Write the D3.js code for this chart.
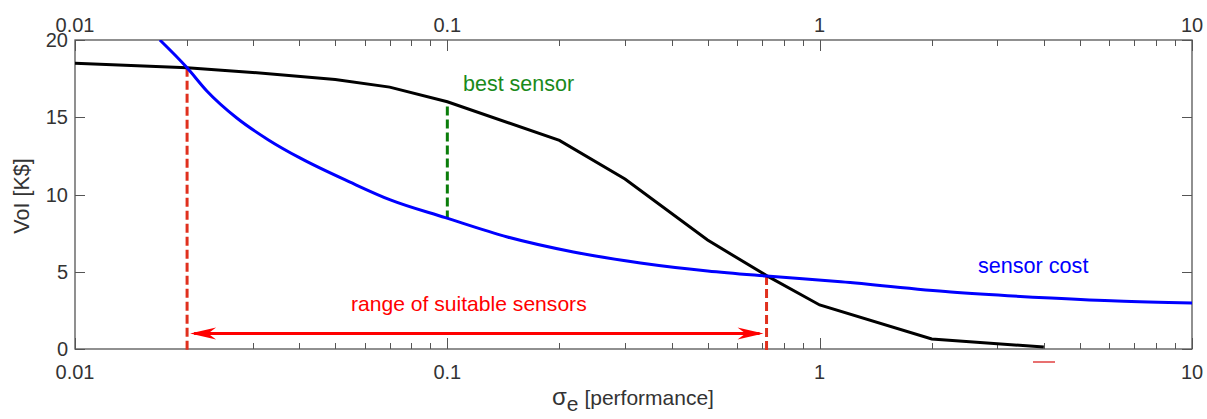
<!DOCTYPE html>
<html>
<head>
<meta charset="utf-8">
<script src="https://cdn.jsdelivr.net/npm/d3@7"></script>
<style>
  body { margin: 0; background: #fff; }
  text { font-family: "Liberation Sans", Arial, sans-serif; fill: #333; }
</style>
</head>
<body>
<script>
// value of information curve (black)
var voiSigma = [0.01, 0.02, 0.03, 0.05, 0.07, 0.1, 0.2, 0.3, 0.5, 0.72, 1, 2, 4];
var voiValue = [18.5, 18.2, 17.9, 17.45, 16.95, 16.0, 13.5, 11.0, 7.05, 4.75, 2.85, 0.65, 0.13];

// sensor cost curve (blue)
var costSigma = [0.0169, 0.02, 0.0226, 0.0272, 0.033, 0.0403, 0.0548, 0.0703, 0.0988,
                 0.145, 0.218, 0.33, 0.5, 0.72, 1.14, 2.25, 4.18, 6.3, 10];
var costValue = [20, 18.2, 16.7, 14.95, 13.55, 12.35, 10.8, 9.65, 8.5,
                 7.25, 6.28, 5.57, 5.05, 4.72, 4.35, 3.69, 3.3, 3.1, 2.98];

var xTicks = [0.01, 0.1, 1, 10];
var yTicks = [0, 5, 10, 15, 20];

var bestSensor = 0.1, rangeLow = 0.02, rangeHigh = 0.72;

var width = 1207, height = 419;
var mLeft = 75, mRight = 1192, mTop = 40, mBottom = 349;

var svg = d3.select("body").append("svg")
            .attr("width", width)
            .attr("height", height);

var x = d3.scaleLog().domain([0.01, 10]).range([mLeft, mRight]);
var y = d3.scaleLinear().domain([0, 20]).range([mBottom, mTop]);

// frame
svg.append("rect")
    .attr("x", mLeft).attr("y", mTop)
    .attr("width", mRight - mLeft).attr("height", mBottom - mTop)
    .attr("fill", "none").attr("stroke", "#555").attr("stroke-width", 1.3);

// x ticks (all log ticks, inward, top & bottom)
x.ticks().forEach(function(v) {
  var major = xTicks.indexOf(v) >= 0;
  var len = major ? 11 : 6;
  var px = Math.round(x(v)) + 0.5;
  svg.append("line").attr("x1", px).attr("x2", px)
     .attr("y1", mBottom).attr("y2", mBottom - len)
     .attr("stroke", "#555").attr("stroke-width", 1);
  svg.append("line").attr("x1", px).attr("x2", px)
     .attr("y1", mTop).attr("y2", mTop + len)
     .attr("stroke", "#555").attr("stroke-width", 1);
});

svg.selectAll("text.xb")
    .data(xTicks)
    .enter().append("text")
    .attr("class", "xb")
    .attr("x", function(d) { return x(d); })
    .attr("y", 379)
    .attr("text-anchor", "middle")
    .attr("font-size", 20)
    .text(function(d) { return d; });

svg.selectAll("text.xt")
    .data(xTicks)
    .enter().append("text")
    .attr("class", "xt")
    .attr("x", function(d) { return x(d); })
    .attr("y", 32)
    .attr("text-anchor", "middle")
    .attr("font-size", 20)
    .text(function(d) { return d; });

// y ticks inward, left & right
yTicks.forEach(function(v) {
  var py = Math.round(y(v)) + 0.5;
  svg.append("line").attr("x1", mLeft).attr("x2", mLeft + 10)
     .attr("y1", py).attr("y2", py).attr("stroke", "#555");
  svg.append("line").attr("x1", mRight).attr("x2", mRight - 10)
     .attr("y1", py).attr("y2", py).attr("stroke", "#555");
});

svg.selectAll("text.y")
    .data(yTicks)
    .enter().append("text")
    .attr("class", "y")
    .attr("x", 68)
    .attr("y", function(d) { return y(d) + 7; })
    .attr("text-anchor", "end")
    .attr("font-size", 20)
    .text(function(d) { return d; });

// axis titles
svg.append("text")
    .attr("transform", "translate(29,196) rotate(-90)")
    .attr("text-anchor", "middle")
    .attr("font-size", 21.5)
    .text("VoI [K$]");

var xt = svg.append("text")
    .attr("x", 633).attr("y", 405)
    .attr("text-anchor", "middle")
    .attr("font-size", 21);
xt.append("tspan").attr("font-size", 24).text("σ");
xt.append("tspan").attr("dy", 6).attr("font-size", 21).text("e");
xt.append("tspan").attr("dy", -6).text(" [performance]");

svg.append("clipPath").attr("id", "plot")
    .append("rect").attr("x", mLeft).attr("y", mTop)
    .attr("width", mRight - mLeft).attr("height", mBottom - mTop);

// red dashed limits
[[rangeLow, 18.2], [rangeHigh, 4.72]].forEach(function(p) {
  svg.append("line")
     .attr("x1", x(p[0])).attr("x2", x(p[0]))
     .attr("y1", y(p[1])).attr("y2", mBottom + 4)
     .attr("stroke", "#e0301e").attr("stroke-width", 3)
     .attr("stroke-dasharray", "9,4");
});

// green dashed best sensor
svg.append("line")
    .attr("x1", x(bestSensor)).attr("x2", x(bestSensor))
    .attr("y1", y(15.7)).attr("y2", y(8.5))
    .attr("stroke", "#0a7d0a").attr("stroke-width", 3)
    .attr("stroke-dasharray", "9,4");

svg.append("path")
    .datum(d3.zip(voiSigma, voiValue))
    .attr("d", d3.line().x(function(d) { return x(d[0]); }).y(function(d) { return y(d[1]); }))
    .attr("fill", "none").attr("stroke", "#000").attr("stroke-width", 3)
    .attr("clip-path", "url(#plot)");

svg.append("path")
    .datum(d3.zip(costSigma, costValue))
    .attr("d", d3.line()
        .x(function(d) { return x(d[0]); })
        .y(function(d) { return y(d[1]); })
        .curve(d3.curveMonotoneX))
    .attr("fill", "none").attr("stroke", "#0000ff").attr("stroke-width", 3)
    .attr("clip-path", "url(#plot)");

// range arrow
var ay = y(1);
var ax1 = x(rangeLow) + 3, ax2 = x(rangeHigh) - 3;
svg.append("line").attr("x1", ax1 + 4).attr("x2", ax2 - 4)
   .attr("y1", ay).attr("y2", ay)
   .attr("stroke", "#ff0000").attr("stroke-width", 3);
svg.append("path")
   .attr("d", "M" + ax1 + "," + ay + " L" + (ax1 + 26) + "," + (ay - 6) +
              " L" + (ax1 + 18) + "," + ay + " L" + (ax1 + 26) + "," + (ay + 6) + "Z")
   .attr("fill", "#ff0000");
svg.append("path")
   .attr("d", "M" + ax2 + "," + ay + " L" + (ax2 - 26) + "," + (ay - 6) +
              " L" + (ax2 - 18) + "," + ay + " L" + (ax2 - 26) + "," + (ay + 6) + "Z")
   .attr("fill", "#ff0000");

// labels
svg.append("text").attr("x", 351).attr("y", 311)
   .attr("font-size", 21.1).style("fill", "#ff0000")
   .text("range of suitable sensors");
svg.append("text").attr("x", 463).attr("y", 91)
   .attr("font-size", 21.5).style("fill", "#1a8a1a")
   .text("best sensor");
svg.append("text").attr("x", 978).attr("y", 273)
   .attr("font-size", 21.6).style("fill", "#0000ff")
   .text("sensor cost");

// small stray legend mark
svg.append("line").attr("x1", 1033).attr("x2", 1055)
   .attr("y1", 362).attr("y2", 362)
   .attr("stroke", "#e04040").attr("stroke-width", 1.5);
</script>
</body>
</html>
